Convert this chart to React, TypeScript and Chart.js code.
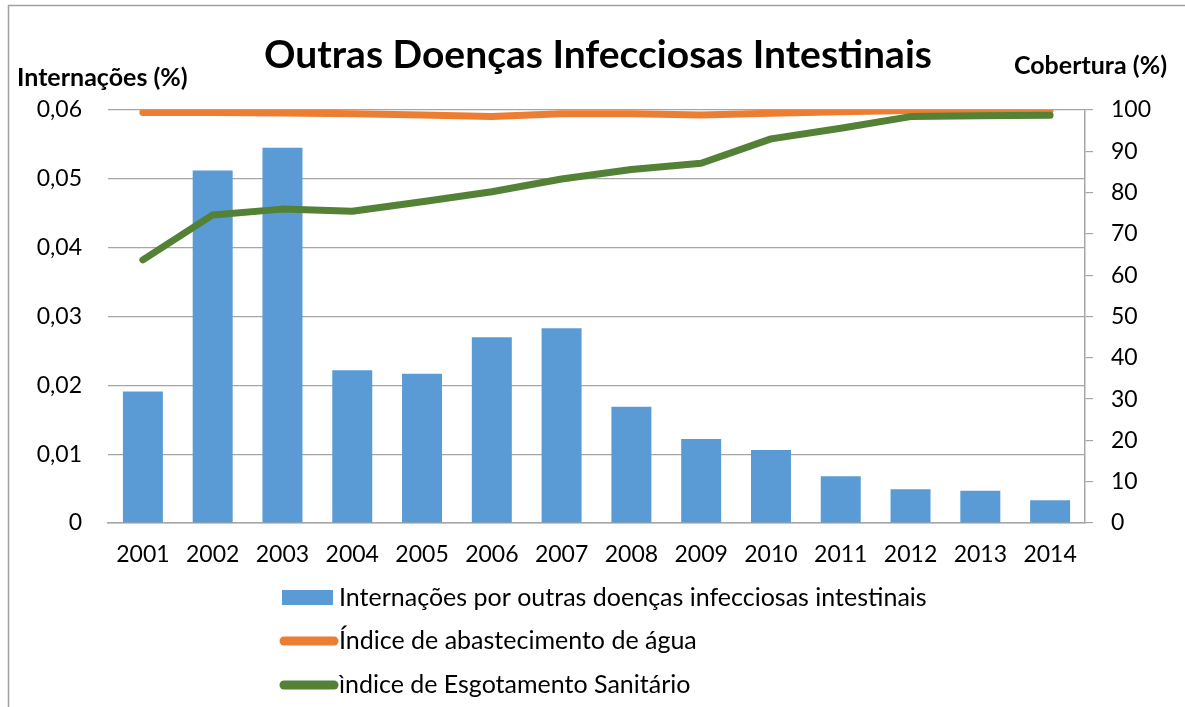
import React, { useEffect, useRef } from "react";
import { Chart, registerables } from "chart.js";

Chart.register(...registerables);

const years = ["2001", "2002", "2003", "2004", "2005", "2006", "2007", "2008", "2009", "2010", "2011", "2012", "2013", "2014"];
const internacoes = [0.0191, 0.0512, 0.0545, 0.0222, 0.0217, 0.027, 0.0283, 0.0169, 0.0122, 0.0106, 0.0068, 0.0049, 0.0047, 0.0033];
const abastecimento = [99.4, 99.4, 99.3, 99.1, 98.8, 98.4, 99.1, 99.1, 98.8, 99.2, 99.6, 99.9, 99.9, 100];
const esgotamento = [63.7, 74.6, 76.0, 75.5, 77.8, 80.2, 83.3, 85.6, 87.1, 93.0, 95.6, 98.4, 98.6, 98.7];

const leftMin = 0;
const leftMax = 0.06;
const leftStep = 0.01;
const rightMin = 0;
const rightMax = 100;
const rightStep = 10;

const chartTitle = "Outras Doenças Infecciosas Intestinais";
const leftAxisTitle = "Internações (%)";
const rightAxisTitle = "Cobertura (%)";
const seriesNames = [
  "Internações por outras doenças infecciosas intestinais",
  "Índice de abastecimento de água",
  "ìndice de Esgotamento Sanitário",
];

const BLUE = "#5B9BD5";
const ORANGE = "#ED7D31";
const GREEN = "#538135";
const GRID = "#a6a6a6";
const FONT = "Lato";

const overlayPlugin = {
  id: "overlay",
  afterDraw(chart: any) {
    const ctx = chart.ctx as CanvasRenderingContext2D;
    ctx.save();
    // outer frame (partially visible)
    ctx.strokeStyle = "#a0a0a0";
    ctx.lineWidth = 1.5;
    ctx.beginPath();
    ctx.moveTo(8.5, 707);
    ctx.lineTo(8.5, 5.5);
    ctx.lineTo(1185, 5.5);
    ctx.stroke();

    ctx.fillStyle = "#000";
    ctx.textBaseline = "middle";
    // title
    ctx.font = `bold 39px ${FONT}`;
    ctx.textAlign = "center";
    ctx.fillText(chartTitle, 598, 55);
    // axis titles
    ctx.font = `bold 25px ${FONT}`;
    ctx.textAlign = "left";
    ctx.fillText(leftAxisTitle, 17, 78);
    ctx.textAlign = "right";
    ctx.fillText(rightAxisTitle, 1167, 66);

    // legend
    const lx = 282;
    const tx = 339;
    const rows = [598, 641, 685];
    ctx.fillStyle = BLUE;
    ctx.fillRect(lx, rows[0] - 8, 51, 15);
    ctx.lineCap = "round";
    ctx.lineWidth = 9;
    ctx.strokeStyle = ORANGE;
    ctx.beginPath();
    ctx.moveTo(lx + 2, rows[1]);
    ctx.lineTo(lx + 52, rows[1]);
    ctx.stroke();
    ctx.strokeStyle = GREEN;
    ctx.beginPath();
    ctx.moveTo(lx + 2, rows[2]);
    ctx.lineTo(lx + 52, rows[2]);
    ctx.stroke();
    ctx.fillStyle = "#000";
    ctx.font = `25px ${FONT}`;
    ctx.textAlign = "left";
    seriesNames.forEach((name, i) => ctx.fillText(name, tx, rows[i]));
    ctx.restore();
  },
};

export default function App() {
  const ref = useRef<HTMLCanvasElement | null>(null);
  useEffect(() => {
    if (!ref.current) return;
    Chart.defaults.font.family = FONT;
    const chart = new Chart(ref.current, {
      type: "bar",
      data: {
        labels: years,
        datasets: [
          {
            type: "bar",
            label: seriesNames[0],
            data: internacoes,
            backgroundColor: BLUE,
            yAxisID: "y",
            barPercentage: 0.573,
            categoryPercentage: 1,
            order: 3,
          },
          {
            type: "line",
            label: seriesNames[1],
            data: abastecimento,
            borderColor: ORANGE,
            backgroundColor: ORANGE,
            borderWidth: 7,
            pointRadius: 0,
            borderCapStyle: "round",
            borderJoinStyle: "round",
            tension: 0,
            yAxisID: "y1",
            order: 2,
            clip: { left: 10, top: 0, right: 10, bottom: 10 },
          } as any,
          {
            type: "line",
            label: seriesNames[2],
            data: esgotamento,
            borderColor: GREEN,
            backgroundColor: GREEN,
            borderWidth: 7,
            pointRadius: 0,
            borderCapStyle: "round",
            borderJoinStyle: "round",
            tension: 0,
            yAxisID: "y1",
            order: 1,
            clip: false,
          } as any,
        ],
      },
      options: {
        responsive: false,
        animation: false,
        devicePixelRatio: 1,
        layout: { padding: { top: 110, bottom: 134, left: 0, right: 0 } },
        plugins: {
          legend: { display: false },
          title: { display: false },
          tooltip: { enabled: false },
        },
        scales: {
          x: {
            grid: { display: false, drawTicks: false },
            border: { display: true, color: GRID, width: 1.5 },
            ticks: { color: "#000", font: { size: 23 }, padding: 18, maxRotation: 0 },
            afterFit: (s: any) => {
              s.height = 50;
            },
          },
          y: {
            position: "left",
            min: leftMin,
            max: leftMax,
            grid: { color: GRID, lineWidth: 1.2, drawTicks: false },
            border: { display: false },
            ticks: {
              stepSize: leftStep,
              color: "#000",
              font: { size: 23 },
              padding: 26,
              callback: (v: any) => (Number(v) === 0 ? "0" : Number(v).toFixed(2).replace(".", ",")),
            },
            afterFit: (s: any) => {
              s.width = 108;
            },
          },
          y1: {
            position: "right",
            min: rightMin,
            max: rightMax,
            grid: { drawOnChartArea: false, color: GRID, lineWidth: 1.2, tickLength: 8 },
            border: { display: true, color: GRID, width: 1.5 },
            ticks: {
              stepSize: rightStep,
              color: "#000",
              font: { size: 23 },
              padding: 18,
            },
            afterFit: (s: any) => {
              s.width = 100;
            },
          },
        },
      },
      plugins: [overlayPlugin],
    } as any);
    return () => chart.destroy();
  }, []);
  return (
    <canvas
      ref={ref}
      width={1185}
      height={707}
      style={{ position: "absolute", left: 0, top: 0, width: 1185, height: 707 }}
    />
  );
}
